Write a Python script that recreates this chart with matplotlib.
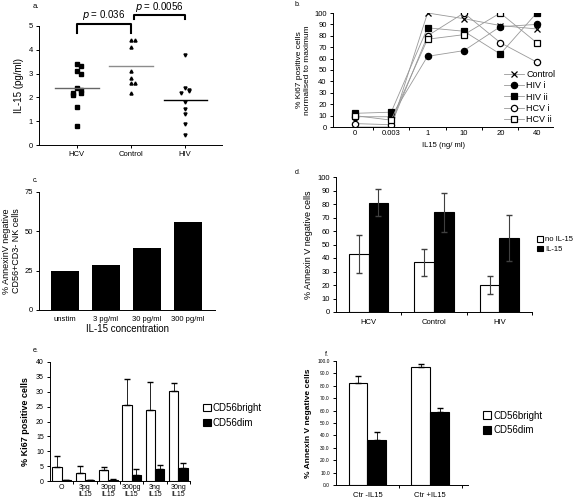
import matplotlib
matplotlib.use("Agg")
import matplotlib.pyplot as plt
import numpy as np

plt.rcParams['font.family'] = ['Liberation Sans', 'DejaVu Sans']

# panel a - serum IL-15
a_groups = ["HCV", "Control", "HIV"]
a_hcv = [3.4, 3.3, 3.1, 3.0, 2.4, 2.3, 2.2, 2.2, 2.1, 1.6, 0.8]
a_ctrl = [4.4, 4.4, 4.1, 3.1, 2.8, 2.6, 2.6, 2.2]
a_hiv = [3.8, 2.4, 2.3, 2.25, 2.2, 1.8, 1.5, 1.3, 0.9, 0.4]
a_lines = [2.4, 3.3, 1.9]
a_pvals = ["0.036", "0.0056"]

# panel b - Ki67 normalised
b_doses = ["0", "0.003", "1", "10", "20", "40"]
b_control = [0, 0, 100, 95, 89, 86]
b_hiv_i = [9, 9, 62, 67, 88, 90]
b_hiv_ii = [12, 13, 87, 84, 64, 100]
b_hcv_i = [3, 2, 80, 100, 74, 57]
b_hcv_ii = [10, 6, 77, 81, 100, 74]

# panel c - AnnexinV negative NK cells
c_labels = ["unstim", "3 pg/ml", "30 pg/ml", "300 pg/ml"]
c_values = [24.5, 28.5, 39.5, 56]

# panel d
d_groups = ["HCV", "Control", "HIV"]
d_no = [43, 37, 20]
d_no_err = [14, 10, 6.5]
d_il = [81, 74, 55]
d_il_err = [10, 14.5, 17]

# panel e
e_labels = ["O", "3pg\nIL15", "30pg\nIL15", "300pg\nIL15", "3ng\nIL15", "30ng\nIL15"]
e_bright = [4.7, 2.7, 3.8, 25.7, 24.0, 30.1]
e_bright_err = [3.6, 2.3, 0.8, 8.6, 9.3, 2.8]
e_dim = [0.3, 0.4, 0.5, 2.1, 4.2, 4.4]
e_dim_err = [0.0, 0.1, 0.3, 2.1, 1.1, 1.5]

# panel f
f_labels = ["Ctr -IL15", "Ctr +IL15"]
f_bright = [82, 95]
f_bright_err = [6, 2.5]
f_dim = [36.5, 59]
f_dim_err = [6.5, 3]

W, H = 576, 504
fig = plt.figure(figsize=(W / 100, H / 100), dpi=100)

def box(l, t, r, b):
    return fig.add_axes([l / W, 1 - b / H, (r - l) / W, (b - t) / H])

def clean(ax):
    ax.spines['top'].set_visible(False)
    ax.spines['right'].set_visible(False)
    for s in ax.spines.values():
        s.set_linewidth(0.7)
    ax.tick_params(width=0.7, length=2.5, labelsize=5.5, pad=2)

# ---- a ----
ax = box(39, 26, 222, 145)
clean(ax)
for i, vals in enumerate([a_hcv, a_ctrl, a_hiv]):
    vals = np.array(vals)
    # nudge near-duplicate points sideways like the original
    offs = np.zeros(len(vals))
    for j in range(len(vals)):
        same = np.sum(np.abs(vals[:j] - vals[j]) < 0.12)
        offs[j] = [0, 0.07, -0.07, 0.12][min(same, 3)]
    mk = ['s', '^', 'v'][i]
    ax.plot(i + offs, vals, mk, color='black', ms=2.2, ls='none')
    ax.plot([i - 0.4, i + 0.4], [a_lines[i]] * 2, color=['0.4', '0.55', 'black'][i], lw=1)
ax.set_xlim(-0.7, 2.68)
ax.set_ylim(0, 5)
ax.set_xticks(range(3))
ax.set_xticklabels(a_groups)
ax.set_yticks(range(6))
ax.set_ylabel("IL-15 (pg/ml)", fontsize=7, labelpad=3)
ax.plot([0, 0, 1, 1], [4.7, 5.08, 5.08, 4.7], color='black', lw=1.5, clip_on=False)
ax.plot([1.05, 1.05, 2, 2], [5.3, 5.46, 5.46, 5.3], color='black', lw=1.5, clip_on=False)
ax.text(0.5, 5.15, r"$p$ = " + a_pvals[0], ha='center', va='bottom', fontsize=7)
ax.text(1.52, 5.5, r"$p$ = " + a_pvals[1], ha='center', va='bottom', fontsize=7)
fig.text(33 / W, 1 - 6 / H, "a.", fontsize=5.5, va='center')

# ---- b ----
ax = box(333, 13, 553, 127)
clean(ax)
xs = np.arange(len(b_doses))
series = [(b_control, 'x', 'black', "Control"), (b_hiv_i, 'o', 'black', "HIV i"),
          (b_hiv_ii, 's', 'black', "HIV ii"), (b_hcv_i, 'o', 'white', "HCV i"),
          (b_hcv_ii, 's', 'white', "HCV ii")]
for vals, mk, fc, name in series:
    ax.plot(xs, vals, color='0.6', lw=0.6, marker=mk, mfc=fc, mec='black',
            ms=4.5, mew=0.9, label=name)
ax.set_xlim(-0.6, 5.45)
ax.set_ylim(0, 100)
ax.set_yticks(range(0, 101, 10))
ax.set_xticks(xs)
ax.set_xticklabels(b_doses)
ax.set_xticks(xs[:-1] + 0.5, minor=True)
ax.tick_params(axis='x', which='major', length=0)
ax.tick_params(axis='x', which='minor', length=2.5, width=0.7)
ax.set_xlabel("IL15 (ng/ ml)", fontsize=5.5, labelpad=4)
ax.set_ylabel("% Ki67 positive cells\nnormalised to maximum", fontsize=6, labelpad=2)
leg = ax.legend(loc='lower right', bbox_to_anchor=(1.04, -0.03), fontsize=6.5, frameon=True,
                edgecolor='none', facecolor='white', framealpha=1, handlelength=2.2,
                handletextpad=0.3, labelspacing=0.25, borderpad=0.2)
fig.text(295 / W, 1 - 4 / H, "b.", fontsize=5, va='center')

# ---- c ----
ax = box(39, 192, 215, 310)
clean(ax)
ax.bar(range(len(c_values)), c_values, width=0.69, color='black')
ax.set_xlim(-0.63, 3.66)
ax.set_ylim(0, 75)
ax.set_yticks([0, 25, 50, 75])
ax.set_xticks(range(len(c_labels)))
ax.set_xticklabels(c_labels)
ax.tick_params(axis='x', length=0, pad=4)
ax.set_xlabel("IL-15 concentration", fontsize=7, labelpad=1)
ax.set_ylabel("% AnnexinV negative\nCD56+CD3- NK cells", fontsize=6.5, labelpad=2)
fig.text(33 / W, 1 - 180 / H, "c.", fontsize=5, va='center')

# ---- d ----
ax = box(336, 177, 532, 312)
clean(ax)
xd = np.arange(len(d_groups))
ax.bar(xd - 0.15, d_no, width=0.3, color='white', edgecolor='black', lw=0.8, label="no IL-15")
ax.bar(xd + 0.15, d_il, width=0.3, color='black', edgecolor='black', lw=0.8, label="IL-15")
ax.errorbar(xd - 0.15, d_no, yerr=d_no_err, fmt='none', ecolor='0.25', elinewidth=0.8, capsize=2.5)
ax.errorbar(xd + 0.15, d_il, yerr=d_il_err, fmt='none', ecolor='0.25', elinewidth=0.8, capsize=2.5)
ax.set_xlim(-0.5, 2.5)
ax.set_ylim(0, 100)
ax.set_yticks(range(0, 101, 10))
ax.set_xticks(xd)
ax.set_xticklabels(d_groups)
ax.set_xticks([0.5, 1.5, 2.5], minor=True)
ax.tick_params(axis='x', which='major', length=0, pad=5)
ax.tick_params(axis='x', which='minor', length=2.5, width=0.7)
ax.set_ylabel("% Annexin V negative cells", fontsize=6.5, labelpad=3)
ax.legend(loc='center left', bbox_to_anchor=(0.99, 0.5), fontsize=5.5, frameon=False,
          handlelength=0.8, handleheight=0.8, handletextpad=0.3, labelspacing=0.3)
fig.text(295 / W, 1 - 173 / H, "d.", fontsize=5, va='center')

# ---- e ----
ax = box(50, 362, 190, 481)
clean(ax)
xe = np.arange(len(e_labels))
ax.bar(xe - 0.2, e_bright, width=0.4, color='white', edgecolor='black', lw=0.8, label="CD56bright")
ax.bar(xe + 0.2, e_dim, width=0.4, color='black', edgecolor='black', lw=0.8, label="CD56dim")
ax.errorbar(xe - 0.2, e_bright, yerr=[np.zeros(len(xe)), e_bright_err], fmt='none',
            ecolor='black', elinewidth=0.6, capsize=2)
ax.errorbar(xe + 0.2, e_dim, yerr=[np.zeros(len(xe)), e_dim_err], fmt='none',
            ecolor='black', elinewidth=0.6, capsize=2)
ax.set_xlim(-0.5, 5.5)
ax.set_ylim(0, 40)
ax.set_yticks(range(0, 41, 5))
ax.set_xticks(xe)
ax.set_xticklabels(e_labels, linespacing=1.1)
ax.set_xticks(np.arange(6) + 0.5, minor=True)
ax.tick_params(axis='x', which='major', length=0, labelsize=5)
ax.tick_params(axis='x', which='minor', length=2.5, width=0.7)
ax.tick_params(axis='y', labelsize=5)
ax.set_ylabel("% Ki67 positive cells", fontsize=6.5, fontweight='bold', labelpad=4)
ax.legend(loc='center left', bbox_to_anchor=(1.03, 0.55), fontsize=7, frameon=False,
          handlelength=0.8, handleheight=0.8, handletextpad=0.2, labelspacing=0.5)
fig.text(33 / W, 1 - 350 / H, "e.", fontsize=5, va='center')

# ---- f ----
ax = box(336, 361, 468, 485)
clean(ax)
xf = np.arange(len(f_labels))
ax.bar(xf - 0.15, f_bright, width=0.3, color='white', edgecolor='black', lw=0.8, label="CD56bright")
ax.bar(xf + 0.15, f_dim, width=0.3, color='black', edgecolor='black', lw=0.8, label="CD56dim")
ax.errorbar(xf - 0.15, f_bright, yerr=[np.zeros(2), f_bright_err], fmt='none',
            ecolor='black', elinewidth=0.6, capsize=2)
ax.errorbar(xf + 0.15, f_dim, yerr=[np.zeros(2), f_dim_err], fmt='none',
            ecolor='black', elinewidth=0.6, capsize=2)
ax.set_xlim(-0.5, 1.6)
ax.set_ylim(0, 100)
ax.set_yticks(range(0, 101, 10))
ax.set_yticklabels(["%.1f" % v for v in range(0, 101, 10)])
ax.set_xticks(xf)
ax.set_xticklabels(f_labels)
ax.set_xticks([0.5, 1.5], minor=True)
ax.tick_params(axis='x', which='major', length=0, labelsize=5.5, pad=5)
ax.tick_params(axis='x', which='minor', length=2.5, width=0.7)
ax.tick_params(axis='y', labelsize=3.5)
ax.set_ylabel("% Annexin V negative cells", fontsize=6, fontweight='bold', labelpad=4)
ax.legend(loc='center left', bbox_to_anchor=(1.05, 0.5), fontsize=7, frameon=False,
          handlelength=0.8, handleheight=0.8, handletextpad=0.2, labelspacing=0.5)
fig.text(325 / W, 1 - 355 / H, "f.", fontsize=5, va='center')

fig.savefig("out.png", dpi=100)
